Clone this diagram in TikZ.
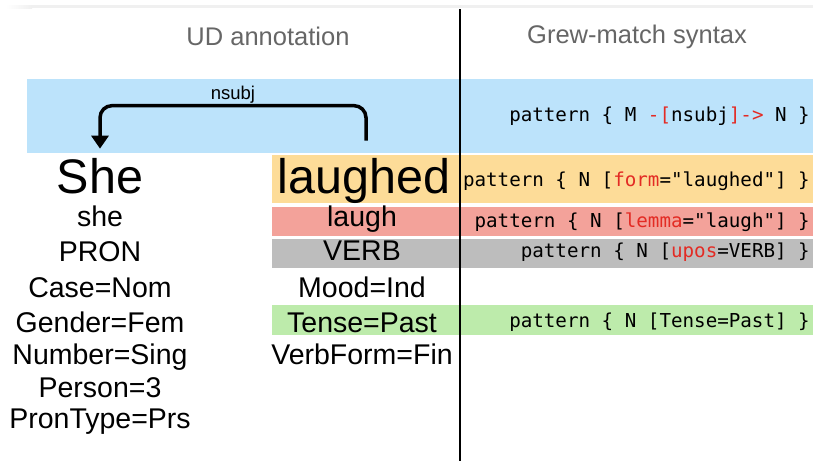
\documentclass[tikz,border=0pt]{standalone}
\usepackage{fontspec}
\setmainfont{Liberation Sans}
\setmonofont{DejaVu Sans Mono}
\usetikzlibrary{arrows.meta}

\definecolor{bandblue}{HTML}{BCE3FB}
\definecolor{bandorange}{HTML}{FDDC98}
\definecolor{bandred}{HTML}{F3A29A}
\definecolor{bandgray}{HTML}{BDBDBD}
\definecolor{bandgreen}{HTML}{BDEBAB}
\definecolor{keyred}{HTML}{E32B24}
\definecolor{headgray}{HTML}{666666}

\newcommand\redpart[1]{\textcolor{keyred}{#1}}

\begin{document}
\begin{tikzpicture}[x=1pt,y=-1pt,
  word/.style={anchor=base, inner sep=0pt, font=\fontsize{28.5}{28.5}\selectfont},
  bigword/.style={anchor=base, inner sep=0pt, font=\fontsize{48.5}{48.5}\selectfont},
  head/.style={anchor=base, inner sep=0pt, text=headgray, font=\fontsize{25.5}{25.5}\selectfont},
  code/.style={anchor=base east, inner sep=0pt, font=\ttfamily\fontsize{19.2}{19.2}\selectfont},
  dep/.style={line width=3.5pt, rounded corners=12pt, -{Triangle[length=13pt,width=17pt]}},
]
\useasboundingbox (0,0) rectangle (813,461);
\fill[white] (0,0) rectangle (813,461);

% faint rule along the top
\shade[left color=white, right color=black!6] (6,5) rectangle (32,8);
\fill[black!6] (32,5) rectangle (813,8);

% coloured bands behind the rows
\fill[bandblue]   (27,79)  rectangle (813,153);
\fill[bandorange] (272,155) rectangle (813,203);
\fill[bandred]    (272,207) rectangle (813,236);
\fill[bandgray]   (272,239) rectangle (813,268);
\fill[bandgreen]  (272,305) rectangle (813,335);

% column divider
\draw[line width=2pt] (460,9) -- (460,461);

% column headings
\node[head] (hud)   at (268,45) {UD annotation};
\node[head] (hgrew) at (637,43) {Grew-match syntax};

% the two tokens and their features
\node[bigword] (She)     at (100,193) {She};
\node[bigword] (laughed) at (364,193) {laughed};

\node[word] (she)    at (100,226) {she};
\node[word] (pron)   at (100,261) {PRON};
\node[word] (case)   at (100,297) {Case=Nom};
\node[word] (gender) at (100,332) {Gender=Fem};
\node[word] (number) at (100,364) {Number=Sing};
\node[word] (person) at (100,397) {Person=3};
\node[word] (prontype) at (100,428) {PronType=Prs};

\node[word] (laugh)    at (362,226) {laugh};
\node[word] (verb)     at (362,260) {VERB};
\node[word] (mood)     at (362,297) {Mood=Ind};
\node[word] (tense)    at (362,332) {Tense=Past};
\node[word] (verbform) at (362,364) {VerbForm=Fin};

% dependency arc
\draw[dep] ([xshift=2pt,yshift=17pt]laughed.north) -- ++(0,-35) -| ([yshift=9pt]She.north);
\node[anchor=base, inner sep=0pt, font=\fontsize{18.5}{18.5}\selectfont] (rel) at (233,99) {nsubj};

% query patterns
\node[code] (qrel)   at (810,121) {pattern \{ M \redpart{-[}nsubj\redpart{]->} N \}};
\node[code] (qform)  at (810,186) {pattern \{ N [\redpart{form}="laughed"] \}};
\node[code] (qlemma) at (810,227) {pattern \{ N [\redpart{lemma}="laugh"] \}};
\node[code] (qupos)  at (810,257) {pattern \{ N [\redpart{upos}=VERB] \}};
\node[code] (qtense) at (810,327) {pattern \{ N [Tense=Past] \}};
\end{tikzpicture}
\end{document}
